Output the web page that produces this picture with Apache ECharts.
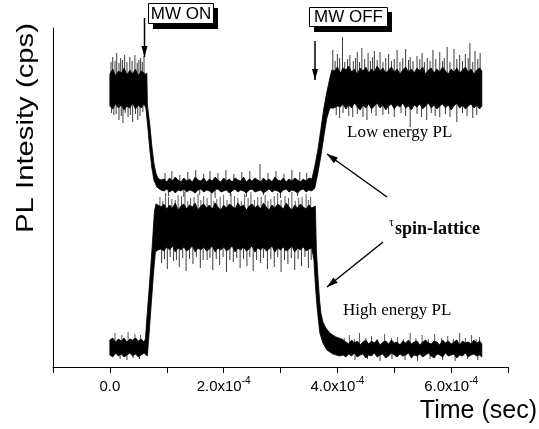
<!DOCTYPE html>
<html><head><meta charset="utf-8">
<script src="https://cdn.jsdelivr.net/npm/echarts@6/dist/echarts.min.js"></script>
<style>html,body{margin:0;padding:0;background:#fff}#c{width:539px;height:429px}</style>
</head><body><div id="c"></div>
<script>
// time in microseconds, intensity in arbitrary units (cps, unlabeled)
const X_TICK_VALUES = [0, 200, 400, 600];
const X_TICK_LABELS = ['0.0', '2.0x10', '4.0x10', '6.0x10'];
const X_TICK_EXP = '-4';

// Low energy PL trace: upper and lower envelope of the noisy band
const LOW_UP = [[0,293],[5,298],[10,291],[15,296],[20,294],[25,299],[30,292],[35,297],[40,293],[45,298],[50,291],[55,296],[60,294],[64,292],[65,294],[66,262],[70.3,242],[73.8,221],[77.4,204],[80.9,194],[84.4,189],[89.7,187],
[95,188],[100,185],[105,189],[110,186],[115,190],[120,187],[125,185],[130,189],[135,186],[140,188],[145,185],[150,190],[155,187],[160,186],[165,189],[170,185],[175,188],[180,186],[185,190],[190,187],[195,185],[200,189],[205,186],[210,188],[215,185],[220,189],[225,187],[230,186],[235,190],[240,185],[245,188],[250,186],[255,189],[260,187],[265,185],[270,189],[275,186],[280,188],[285,185],[290,190],[295,187],[300,186],[305,189],[310,185],[315,188],[320,186],[325,189],[330,187],[335,185],[340,188],[345,186],[350,189],[355.2,188],
[360.4,201],[365.7,217],[371,238],[376.3,259],[381.5,275],[386.8,289],[390.3,297],
[395,296],[400,300],[405,294],[410,299],[415,297],[420,301],[425,295],[430,298],[435,293],[440,299],[445,296],[450,300],[455,294],[460,298],[465,295],[470,301],[475,296],[480,299],[485,294],[490,297],[495,300],[500,295],[505,298],[510,293],[515,297],[520,300],[525,295],[530,298],[535,294],[540,299],[545,296],[550,300],[555,293],[560,297],[565,299],[570,294],[575,298],[580,295],[585,300],[590,296],[595,293],[600,298],[605,295],[610,299],[615,294],[620,297],[625,300],[630,295],[635,298],[640,293],[645,297],[650,299],[654,296]];
const LOW_DN = [[0,261],[5,258],[10,263],[15,259],[20,262],[25,257],[30,261],[35,259],[40,264],[45,258],[50,262],[55,259],[60,263],[63.3,259],[66.8,239],[70.3,217],[73.8,199],[77.4,187],[82.6,180],[89.7,177],
[95,176],[100,178],[105,175],[110,177],[115,174],[120,177],[125,176],[130,178],[135,175],[140,177],[145,176],[150,174],[155,177],[160,178],[165,175],[170,177],[175,176],[180,174],[185,177],[190,178],[195,175],[200,176],[205,177],[210,174],[215,176],[220,178],[225,175],[230,177],[235,176],[240,174],[245,177],[250,178],[255,175],[260,176],[265,177],[270,174],[275,176],[280,178],[285,175],[290,177],[295,176],[300,174],[305,177],[310,178],[315,175],[320,177],[325,176],[330,174],[335,177],[340,178],[345,175],[350,177],[355.2,176],
[360.4,179],[365.7,194],[371,211],[376.3,231],[381.5,249],[386.8,259],[393.8,259],[400.8,261],
[405,260],[410,263],[415,258],[420,262],[425,259],[430,264],[435,260],[440,257],[445,262],[450,259],[455,263],[460,258],[465,261],[470,264],[475,259],[480,262],[485,257],[490,261],[495,263],[500,258],[505,262],[510,260],[515,264],[520,259],[525,261],[530,257],[535,262],[540,260],[545,263],[550,258],[555,261],[560,264],[565,259],[570,262],[575,258],[580,261],[585,263],[590,259],[595,262],[600,257],[605,261],[610,264],[615,259],[620,262],[625,258],[630,261],[635,263],[640,259],[645,262],[650,258],[654,261]];

// High energy PL trace
const HIGH_UP = [[0,27],[5,29],[10,25],[15,28],[20,26],[25,29],[30,25],[35,28],[40,27],[45,29],[50,26],[55,28],[60,25],[62.4,28],[65.1,49],[68.6,75],[72.1,102],[75.6,131],[78.2,155],[80.9,163],[84.4,162],
[90,160],[95,163],[100,158],[105,162],[110,159],[115,164],[120,157],[125,161],[130,163],[135,158],[140,162],[145,160],[150,164],[155,157],[160,161],[165,163],[170,159],[175,162],[180,158],[185,164],[190,160],[195,157],[200,162],[205,159],[210,163],[215,161],[220,158],[225,164],[230,160],[235,162],[240,157],[245,161],[250,163],[255,159],[260,162],[265,158],[270,164],[275,160],[280,157],[285,162],[290,159],[295,163],[300,161],[305,158],[310,164],[315,160],[320,157],[325,162],[330,159],[335,163],[340,160],[345,158],[350,162],[355,159],[361.3,161],
[363.1,117],[365.7,92],[368.4,69],[371,54],[374.5,45],[379.8,39],[386.8,34],[397.4,30],[407.9,28],
[415,25],[420,23],[425,27],[430,24],[435,26],[440,22],[445,25],[450,27],[455,23],[460,26],[465,24],[470,27],[475,22],[480,25],[485,26],[490,23],[495,27],[500,24],[505,25],[510,22],[515,26],[520,24],[525,27],[530,23],[535,25],[540,26],[545,22],[550,25],[555,27],[560,24],[565,23],[570,26],[575,25],[580,22],[585,27],[590,24],[595,26],[600,23],[605,25],[610,27],[615,22],[620,26],[625,24],[630,25],[635,23],[640,27],[645,24],[650,26],[654,23]];
const HIGH_DN = [[0,12],[5,10],[10,14],[15,11],[20,13],[25,10],[30,12],[35,14],[40,11],[45,13],[50,10],[55,12],[60,14],[65.9,11],[69.4,37],[73,65],[76.5,92],[80,115],[84.4,117],
[90,118],[95,116],[100,120],[105,117],[110,121],[115,115],[120,119],[125,117],[130,120],[135,116],[140,118],[145,121],[150,115],[155,119],[160,117],[165,120],[170,116],[175,118],[180,121],[185,115],[190,119],[195,117],[200,120],[205,116],[210,118],[215,121],[220,115],[225,119],[230,117],[235,120],[240,116],[245,118],[250,121],[255,115],[260,119],[265,117],[270,120],[275,116],[280,118],[285,121],[290,115],[295,119],[300,117],[305,120],[310,116],[315,118],[320,121],[325,115],[330,119],[335,117],[340,120],[345,116],[350,118],[355,119],[358.7,107],
[361.3,82],[364,62],[366.6,47],[369.2,34],[374.5,24],[381.5,17],[392.1,13],[404.4,11],
[410,12],[415,10],[420,13],[425,11],[430,14],[435,10],[440,12],[445,13],[450,9],[455,12],[460,11],[465,14],[470,10],[475,12],[480,13],[485,9],[490,11],[495,14],[500,12],[505,10],[510,13],[515,11],[520,12],[525,14],[530,9],[535,12],[540,11],[545,13],[550,10],[555,12],[560,14],[565,11],[570,9],[575,13],[580,12],[585,10],[590,14],[595,11],[600,12],[605,13],[610,9],[615,12],[620,11],[625,14],[630,10],[635,12],[640,13],[645,11],[650,12],[654,10]];

// noise spikes [time, tip]
const LOW_SPIKES_UP = [[2,305],[5,310],[9,306],[12,314],[16,304],[19,309],[22,307],[26,312],[30,305],[35,310],[39,306],[44,312],[48,304],[51,307],[54,309],[57,305],[60,311],
[97,194],[109,196],[123,192],[137,195],[151,197],[165,193],[176,196],[190,194],[204,197],[218,193],[232,195],[246,196],[264,203],[278,194],[292,196],[306,193],[320,197],[334,195],[346,194],
[392,317],[396,306],[400,313],[404,309],[409,330],[413,305],[418,308],[422,312],[428,306],[432,309],[435,315],[439,305],[443,319],[448,308],[454,314],[458,306],[462,310],[465,316],[470,307],[475,315],[480,305],[485,309],[490,313],[495,306],[500,308],[505,317],[510,305],[515,309],[520,318],[525,307],[528,310],[533,306],[540,311],[545,308],[549,314],[553,305],[558,309],[563,306],[568,317],[573,308],[580,315],[585,306],[588,309],[593,320],[598,305],[605,318],[610,308],[615,312],[620,306],[625,313],[630,309],[633,324],[638,305],[642,316],[647,308],[651,314]];
const LOW_SPIKES_DN = [[3,254],[7,252],[11,253],[16,247],[20,251],[23,244],[27,254],[32,250],[36,252],[40,245],[45,253],[49,247],[53,251],[58,255],
[103,171],[130,170],[158,172],[185,169],[212,171],[240,170],[270,172],[300,169],[330,171],
[398,252],[404,249],[410,254],[420,251],[427,250],[435,253],[445,250],[452,247],[460,254],[468,251],[480,252],[490,253],[500,250],[512,254],[520,251],[528,240],[540,253],[548,250],[557,247],[565,254],[572,251],[580,250],[590,253],[598,250],[610,245],[620,254],[628,251],[638,249],[645,252]];
const HIGH_SPIKES_UP = [[9,34],[21,32],[32,35],[44,33],[54,32],
[88,170],[93,166],[98,174],[103,170],[109,168],[115,167],[120,172],[126,171],[132,175],[137,166],[142,169],[148,170],[155,173],[160,167],[165,171],[171,169],[178,175],[183,166],[188,168],[194,170],[200,172],[206,167],[213,174],[219,171],[225,169],[231,166],[237,173],[243,169],[248,175],[254,167],[260,170],[266,170],[273,172],[278,166],[283,168],[289,171],[295,174],[301,167],[308,171],[314,169],[320,175],[326,166],[332,169],[338,170],[345,173],[349,167],[353,170],
[412,29],[421,32],[430,28],[439,34],[450,29],[460,31],[470,28],[483,33],[495,29],[506,30],[516,28],[528,34],[538,29],[549,32],[560,28],[571,33],[583,29],[594,31],[604,28],[615,34],[625,29],[636,32],[644,28],[650,30]];
const HIGH_SPIKES_DN = [[18,8],[30,7],[41,9],[52,8],
[91,104],[96,108],[101,98],[106,110],[112,106],[117,107],[122,100],[128,109],[134,96],[140,108],[146,103],[152,110],[159,99],[164,107],[171,107],[176,109],[181,97],[187,108],[193,102],[199,110],[205,95],[211,107],[217,105],[223,109],[229,99],[235,108],[241,101],[246,110],[252,96],[258,107],[265,104],[270,109],[277,98],[283,108],[289,100],[295,110],[301,95],[307,107],[313,103],[319,109],[325,97],[331,108],[337,101],[343,110],[349,99],[354,107],
[431,7],[453,8],[475,6],[496,8],[519,7],[541,6],[563,8],[585,7],[607,6],[629,8],[647,7]];

function interp(path, t) {
  if (t <= path[0][0]) return path[0][1];
  for (let i = 1; i < path.length; i++) {
    if (t <= path[i][0]) {
      const a = path[i-1], b = path[i];
      return a[1] + (b[1]-a[1]) * (t-a[0]) / (b[0]-a[0]);
    }
  }
  return path[path.length-1][1];
}

function bandSeries(up, dn) {
  return {
    type: 'custom', silent: true, clip: true, z: 2,
    data: [[up[0][0], up[0][1]]],
    renderItem: function (params, api) {
      const pts = up.map(p => api.coord(p)).concat(dn.slice().reverse().map(p => api.coord(p)));
      return { type: 'polygon', shape: { points: pts }, style: { fill: '#000', stroke: '#000', lineWidth: 0.8 } };
    }
  };
}
function spikeSeries(spikes, up, dn, color) {
  return {
    type: 'custom', silent: true, clip: true, z: 1,
    data: spikes,
    renderItem: function (params, api) {
      const t = api.value(0), tip = api.value(1);
      const mid = (interp(up, t) + interp(dn, t)) / 2;
      const p1 = api.coord([t, tip]), p2 = api.coord([t, mid]);
      return { type: 'line', shape: { x1: p1[0], y1: p1[1], x2: p2[0], y2: p2[1] }, style: { stroke: color, lineWidth: 1 } };
    }
  };
}

function arrowHead(x1, y1, x2, y2, len, half) {
  const dx = x2 - x1, dy = y2 - y1, L = Math.hypot(dx, dy);
  const ux = dx / L, uy = dy / L;
  const bx = x2 - ux * len, by = y2 - uy * len;
  return [[x2, y2], [bx - uy * half, by + ux * half], [bx + uy * half, by - ux * half]];
}
function arrow(x1, y1, x2, y2, len, half) {
  return [
    { type: 'line', shape: { x1: x1, y1: y1, x2: x2, y2: y2 }, style: { stroke: '#000', lineWidth: 1.5 }, z: 100 },
    { type: 'polygon', shape: { points: arrowHead(x1, y1, x2, y2, len, half) }, style: { fill: '#000' }, z: 100 }
  ];
}

const chart = echarts.init(document.getElementById('c'), null, { renderer: 'canvas' });
const SANS = 'Liberation Sans, Arial, sans-serif';
const SERIF = 'Liberation Serif, Times New Roman, serif';

chart.setOption({
  animation: false,
  backgroundColor: '#fff',
  grid: { left: 53, right: 31, top: 28, bottom: 62 },
  xAxis: {
    type: 'value', min: -100, max: 700, interval: 100,
    axisLine: { show: true, onZero: false, lineStyle: { color: '#000', width: 1 } },
    axisTick: { show: true, inside: false, length: 6, lineStyle: { color: '#000', width: 1 } },
    splitLine: { show: false },
    axisLabel: {
      margin: 9,
      formatter: function (v) {
        const i = X_TICK_VALUES.indexOf(v);
        if (i < 0) return '';
        if (v === 0) return '{a|' + X_TICK_LABELS[i] + '}';
        return '{a|' + X_TICK_LABELS[i] + '}{b|' + X_TICK_EXP + '}';
      },
      rich: {
        a: { fontSize: 15, fontFamily: SANS, color: '#000', lineHeight: 18, verticalAlign: 'bottom' },
        b: { fontSize: 10, fontFamily: SANS, color: '#000', lineHeight: 10, verticalAlign: 'top' }
      }
    }
  },
  yAxis: {
    type: 'value', min: 0, max: 339,
    axisLine: { show: true, onZero: false, lineStyle: { color: '#000', width: 1 } },
    axisTick: { show: false }, axisLabel: { show: false }, splitLine: { show: false }
  },
  series: [
    spikeSeries(LOW_SPIKES_UP, LOW_UP, LOW_DN, '#3a3a3a'),
    spikeSeries(LOW_SPIKES_DN, LOW_UP, LOW_DN, '#3a3a3a'),
    spikeSeries(HIGH_SPIKES_UP, HIGH_UP, HIGH_DN, '#555'),
    spikeSeries(HIGH_SPIKES_DN, HIGH_UP, HIGH_DN, '#3a3a3a'),
    bandSeries(LOW_UP, LOW_DN),
    bandSeries(HIGH_UP, HIGH_DN)
  ],
  graphic: [
    { type: 'rect', shape: { x: 153, y: 8, width: 65, height: 21 }, style: { fill: '#000' }, z: 100 },
    { type: 'rect', shape: { x: 148.5, y: 3.5, width: 65, height: 20 }, style: { fill: '#fff', stroke: '#000', lineWidth: 1 }, z: 101 },
    { type: 'text', x: 181, y: 14, style: { text: 'MW ON', font: '17px ' + SANS, fill: '#000', align: 'center', verticalAlign: 'middle' }, z: 102 },
    { type: 'rect', shape: { x: 314, y: 12, width: 78, height: 20 }, style: { fill: '#000' }, z: 100 },
    { type: 'rect', shape: { x: 309.5, y: 7.5, width: 78, height: 19 }, style: { fill: '#fff', stroke: '#000', lineWidth: 1 }, z: 101 },
    { type: 'text', x: 348.5, y: 17.5, style: { text: 'MW OFF', font: '17px ' + SANS, fill: '#000', align: 'center', verticalAlign: 'middle' }, z: 102 },
    ...arrow(144.5, 18, 144.5, 57, 11, 3),
    ...arrow(315, 41, 315, 80, 11, 3),
    ...arrow(387, 197, 327, 154, 11, 3.5),
    ...arrow(383, 242, 327, 287, 11, 3.5),
    { type: 'text', x: 347, y: 133, style: { text: 'Low energy PL', font: '17px ' + SERIF, fill: '#000', align: 'left', verticalAlign: 'middle' }, z: 102 },
    { type: 'text', x: 343, y: 311, style: { text: 'High energy PL', font: '17px ' + SERIF, fill: '#000', align: 'left', verticalAlign: 'middle' }, z: 102 },
    { type: 'text', x: 389, y: 223, style: { text: 'τ', font: '12px ' + SERIF, fill: '#000', align: 'left', verticalAlign: 'middle' }, z: 102 },
    { type: 'text', x: 395, y: 229, style: { text: 'spin-lattice', font: 'bold 18px ' + SERIF, fill: '#000', align: 'left', verticalAlign: 'middle' }, z: 102 },
    { type: 'text', x: 537, y: 411, style: { text: 'Time (sec)', font: '25px ' + SANS, fill: '#000', align: 'right', verticalAlign: 'middle' }, z: 102 },
    { type: 'text', x: 26, y: 128, rotation: Math.PI / 2, scaleX: 1.22, scaleY: 1, style: { text: 'PL Intesity (cps)', font: '24px ' + SANS, fill: '#000', align: 'center', verticalAlign: 'middle' }, z: 102 }
  ]
});
</script>
</body></html>
